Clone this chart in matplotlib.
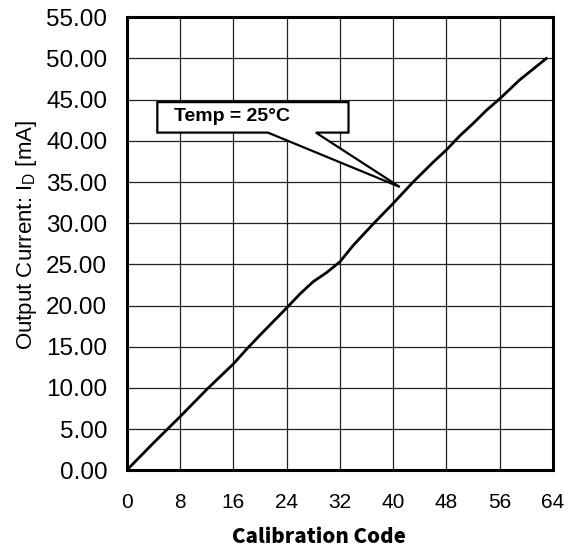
import matplotlib
matplotlib.use("Agg")
import matplotlib.pyplot as plt
from matplotlib.patches import Polygon

plt.rcParams["font.family"] = ["Liberation Sans", "DejaVu Sans"]
plt.rcParams["mathtext.default"] = "regular"

# calibration code vs output current
codes = [0, 4, 8, 12, 16, 18, 20, 24, 26, 28, 30, 32, 34, 37, 40, 43, 46, 48, 50, 52, 54, 56, 59, 63]
current_ma = [0, 3.3, 6.5, 9.8, 12.9, 14.7, 16.4, 19.7, 21.4, 22.9, 24.0, 25.3, 27.3, 29.9,
              32.4, 35.0, 37.4, 38.9, 40.6, 42.1, 43.7, 45.1, 47.4, 50.0]
x_ticks = list(range(0, 65, 8))
y_ticks = [i * 5 for i in range(12)]
note_text = "Temp = 25°C"

fig = plt.figure(figsize=(5.74, 5.54), dpi=100)
ax = fig.add_axes([0.2207, 0.1511, 0.7427, 0.8177])

ax.plot(codes, current_ma, color="black", lw=2.0, zorder=3)

ax.set_xlim(0, 64)
ax.set_ylim(0, 55)
ax.set_xticks(x_ticks)
ax.set_yticks(y_ticks)
ax.set_yticklabels([f"{v:.2f}" for v in y_ticks], fontsize=17.5)
ax.set_xticklabels([str(v) for v in x_ticks], fontsize=15)
ax.tick_params(axis="both", length=0)
ax.tick_params(axis="y", pad=14)
ax.tick_params(axis="x", pad=16)
ax.grid(True, color="#222222", lw=0.9)
ax.set_axisbelow(True)
for sp in ax.spines.values():
    sp.set_linewidth(2.2)

ax.set_ylabel("Output Current: I$_{D}$ [mA]", fontsize=16)
ax.yaxis.set_label_coords(-0.205, 0.52)
fig.text(0.556, 0.030, "Calibration Code", fontsize=14.7, fontweight="black",
         family=["Noto Sans CJK JP", "DejaVu Sans"], ha="center", va="center")

# callout box with a wedge pointing at the curve
bx0, bx1, by0, by1 = 4.6, 33.3, 41.0, 44.7
w0, w1, tip = 21.2, 28.4, (41.0, 34.4)
callout = Polygon([(bx0, by0), (w0, by0), tip, (w1, by0), (bx1, by0), (bx1, by1), (bx0, by1)],
                  closed=True, facecolor="white", edgecolor="black", lw=1.6, zorder=4)
ax.add_patch(callout)
ax.text(7.1, 42.9, note_text, fontsize=14, fontweight="bold", va="center", ha="left", zorder=5)

fig.savefig("out.png", dpi=100)
